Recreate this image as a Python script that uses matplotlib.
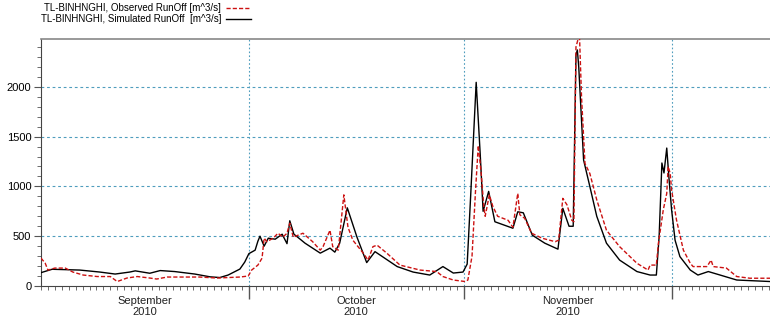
import numpy as np
import matplotlib
matplotlib.use("Agg")
import matplotlib.pyplot as plt
from matplotlib.lines import Line2D
from matplotlib.ticker import MultipleLocator, FixedLocator, NullFormatter

plt.rcParams['font.family'] = ['Liberation Sans', 'DejaVu Sans']

# days since 2010-09-01
sim_days = [0, 1.6, 5.6, 8.5, 10.7, 12.8, 13.6, 15.7, 17.2, 19.3, 22.2, 24.4, 25.8, 27.0,
            28.7, 29.4, 30.0, 30.9, 31.3, 31.6, 32.2, 32.8, 33.8, 34.8, 35.5, 35.9, 36.5,
            37.4, 38.1, 40.3, 41.7, 42.4, 43.1, 44.2, 45.6, 47.0, 48.2, 51.4, 53.7, 56.1,
            58.0, 59.5, 60.9, 61.5, 62.0, 62.8, 63.4, 63.8, 64.6, 65.5, 67.7, 68.1, 68.8,
            69.6, 70.9, 72.7, 74.6, 75.3, 76.2, 76.8, 77.2, 77.4, 77.6, 78.3, 79.2, 80.2,
            81.6, 83.5, 86.0, 87.9, 88.8, 89.2, 89.6, 89.9, 90.3, 90.6, 91.0, 91.5, 92.2,
            93.7, 94.8, 96.3, 98.0, 100.4, 105.2]
sim_vals = [134, 168, 160, 140, 120, 140, 152, 128, 155, 145, 120, 92, 85, 110,
            170, 240, 325, 360, 450, 500, 400, 480, 470, 520, 425, 655, 520,
            470, 430, 330, 380, 340, 430, 785, 490, 235, 345, 195, 140, 110,
            195, 130, 140, 220, 900, 2045, 1300, 750, 950, 645, 590, 580, 745,
            735, 510, 430, 370, 780, 600, 600, 2320, 2370, 2200, 1265, 1000, 700,
            430, 260, 145, 110, 110, 495, 1235, 1135, 1385, 1100, 765, 460, 295,
            160, 110, 145, 110, 60, 45]

obs_days = [0, 0.6, 1.0, 2.0, 3.5, 4.6, 6.1, 8.1, 10.0, 11.0, 12.4, 13.9, 15.7, 16.7,
            18.2, 21.1, 22.9, 25.4, 28.7, 29.9, 30.4, 31.3, 31.9, 32.2, 32.6, 33.5, 34.2,
            34.9, 35.5, 35.9, 36.4, 37.8, 39.2, 40.3, 40.7, 41.7, 42.1, 42.9, 43.7, 44.3,
            45.0, 46.5, 47.2, 47.9, 48.5, 49.9, 51.8, 54.7, 57.1, 58.0, 59.5, 61.2, 61.6,
            62.2, 62.7, 63.1, 63.5, 63.9, 64.1, 64.7, 65.2, 65.9, 67.4, 68.1, 68.8, 69.1,
            69.8, 70.8, 72.3, 74.2, 74.7, 75.3, 75.9, 76.6, 76.9, 77.2, 77.7, 78.0, 78.5,
            79.2, 80.2, 81.6, 83.5, 86.0, 87.6, 87.9, 88.8, 89.1, 89.8, 90.3, 90.5, 90.8,
            91.0, 91.7, 92.7, 93.7, 94.1, 96.1, 96.7, 97.0, 98.9, 100.4, 102.3, 105.2]
obs_vals = [280, 230, 160, 180, 180, 140, 110, 95, 95, 45, 80, 95, 80, 70,
            90, 90, 90, 80, 90, 100, 160, 210, 280, 480, 445, 480, 530,
            490, 530, 630, 490, 530, 445, 360, 395, 560, 395, 360, 915, 590,
            460, 330, 260, 395, 410, 330, 210, 160, 145, 95, 60, 45, 60,
            300, 950, 1410, 1150, 800, 700, 915, 800, 700, 660, 590, 930, 715,
            680, 530, 480, 445, 460, 880, 815, 660, 645, 2400, 2530, 1900, 1230,
            1130, 865, 560, 395, 228, 160, 210, 210, 430, 765, 930, 1200, 1130,
            965, 665, 360, 228, 195, 195, 260, 195, 180, 95, 78, 78]

month_starts = [0, 30, 61, 91]
month_names = ["September", "October", "November"]
month_mids = [15, 45.5, 76]
year_label = "2010"
obs_label = "TL-BINHNGHI, Observed RunOff [m^3/s]"
sim_label = "TL-BINHNGHI, Simulated RunOff  [m^3/s]"

fig = plt.figure(figsize=(7.7, 3.22), dpi=100)
ax = fig.add_axes([41 / 770, 36 / 322, 729 / 770, 247 / 322])

grid_c = '#4f9dbd'
for v in [500, 1000, 1500, 2000]:
    ax.axhline(v, color=grid_c, lw=0.8, ls=(0, (2.5, 2.5)), zorder=1)
for d in month_starts[1:]:
    ax.axvline(d, color=grid_c, lw=0.8, ls=(0, (1.5, 2)), zorder=1)

ax.plot(sim_days, sim_vals, color='black', lw=1.0, zorder=3)
ax.plot(obs_days, obs_vals, color='#cc1111', lw=1.0, ls=(0, (3, 1.5)), zorder=4)

ax.set_xlim(0, 105.2)
ax.set_ylim(0, 2480)

ax.yaxis.set_major_locator(FixedLocator([0, 500, 1000, 1500, 2000]))
ax.yaxis.set_minor_locator(MultipleLocator(100))
ax.tick_params(axis='y', which='major', length=5, labelsize=8, pad=2, color='#555555')
ax.tick_params(axis='y', which='minor', length=3, color='#555555')

ax.xaxis.set_major_locator(FixedLocator(month_starts[1:]))
ax.xaxis.set_major_formatter(NullFormatter())
ax.xaxis.set_minor_locator(MultipleLocator(1))
ax.tick_params(axis='x', which='major', length=9, width=1, color='#555555')
ax.tick_params(axis='x', which='minor', length=3, color='#555555')

for m, name in zip(month_mids, month_names):
    ax.text(m, -0.04, name + "\n" + year_label, transform=ax.get_xaxis_transform(),
            ha='center', va='top', fontsize=8, linespacing=1.15, color='#222222')

for s in ['left', 'bottom']:
    ax.spines[s].set_color('#444444')
ax.spines['top'].set_color('#888888')
ax.spines['top'].set_linewidth(1.2)
ax.spines['right'].set_visible(False)

handles = [Line2D([], [], color='#cc1111', lw=1.0, ls=(0, (3, 1.5))),
           Line2D([], [], color='black', lw=1.0)]
fig.legend(handles, [obs_label, sim_label], loc='upper left', bbox_to_anchor=(33 / 770, 1.015),
           frameon=False, markerfirst=False, fontsize=7, handlelength=2.6,
           handletextpad=0.5, labelspacing=0.15, borderpad=0.3)

fig.savefig("out.png", dpi=100)
